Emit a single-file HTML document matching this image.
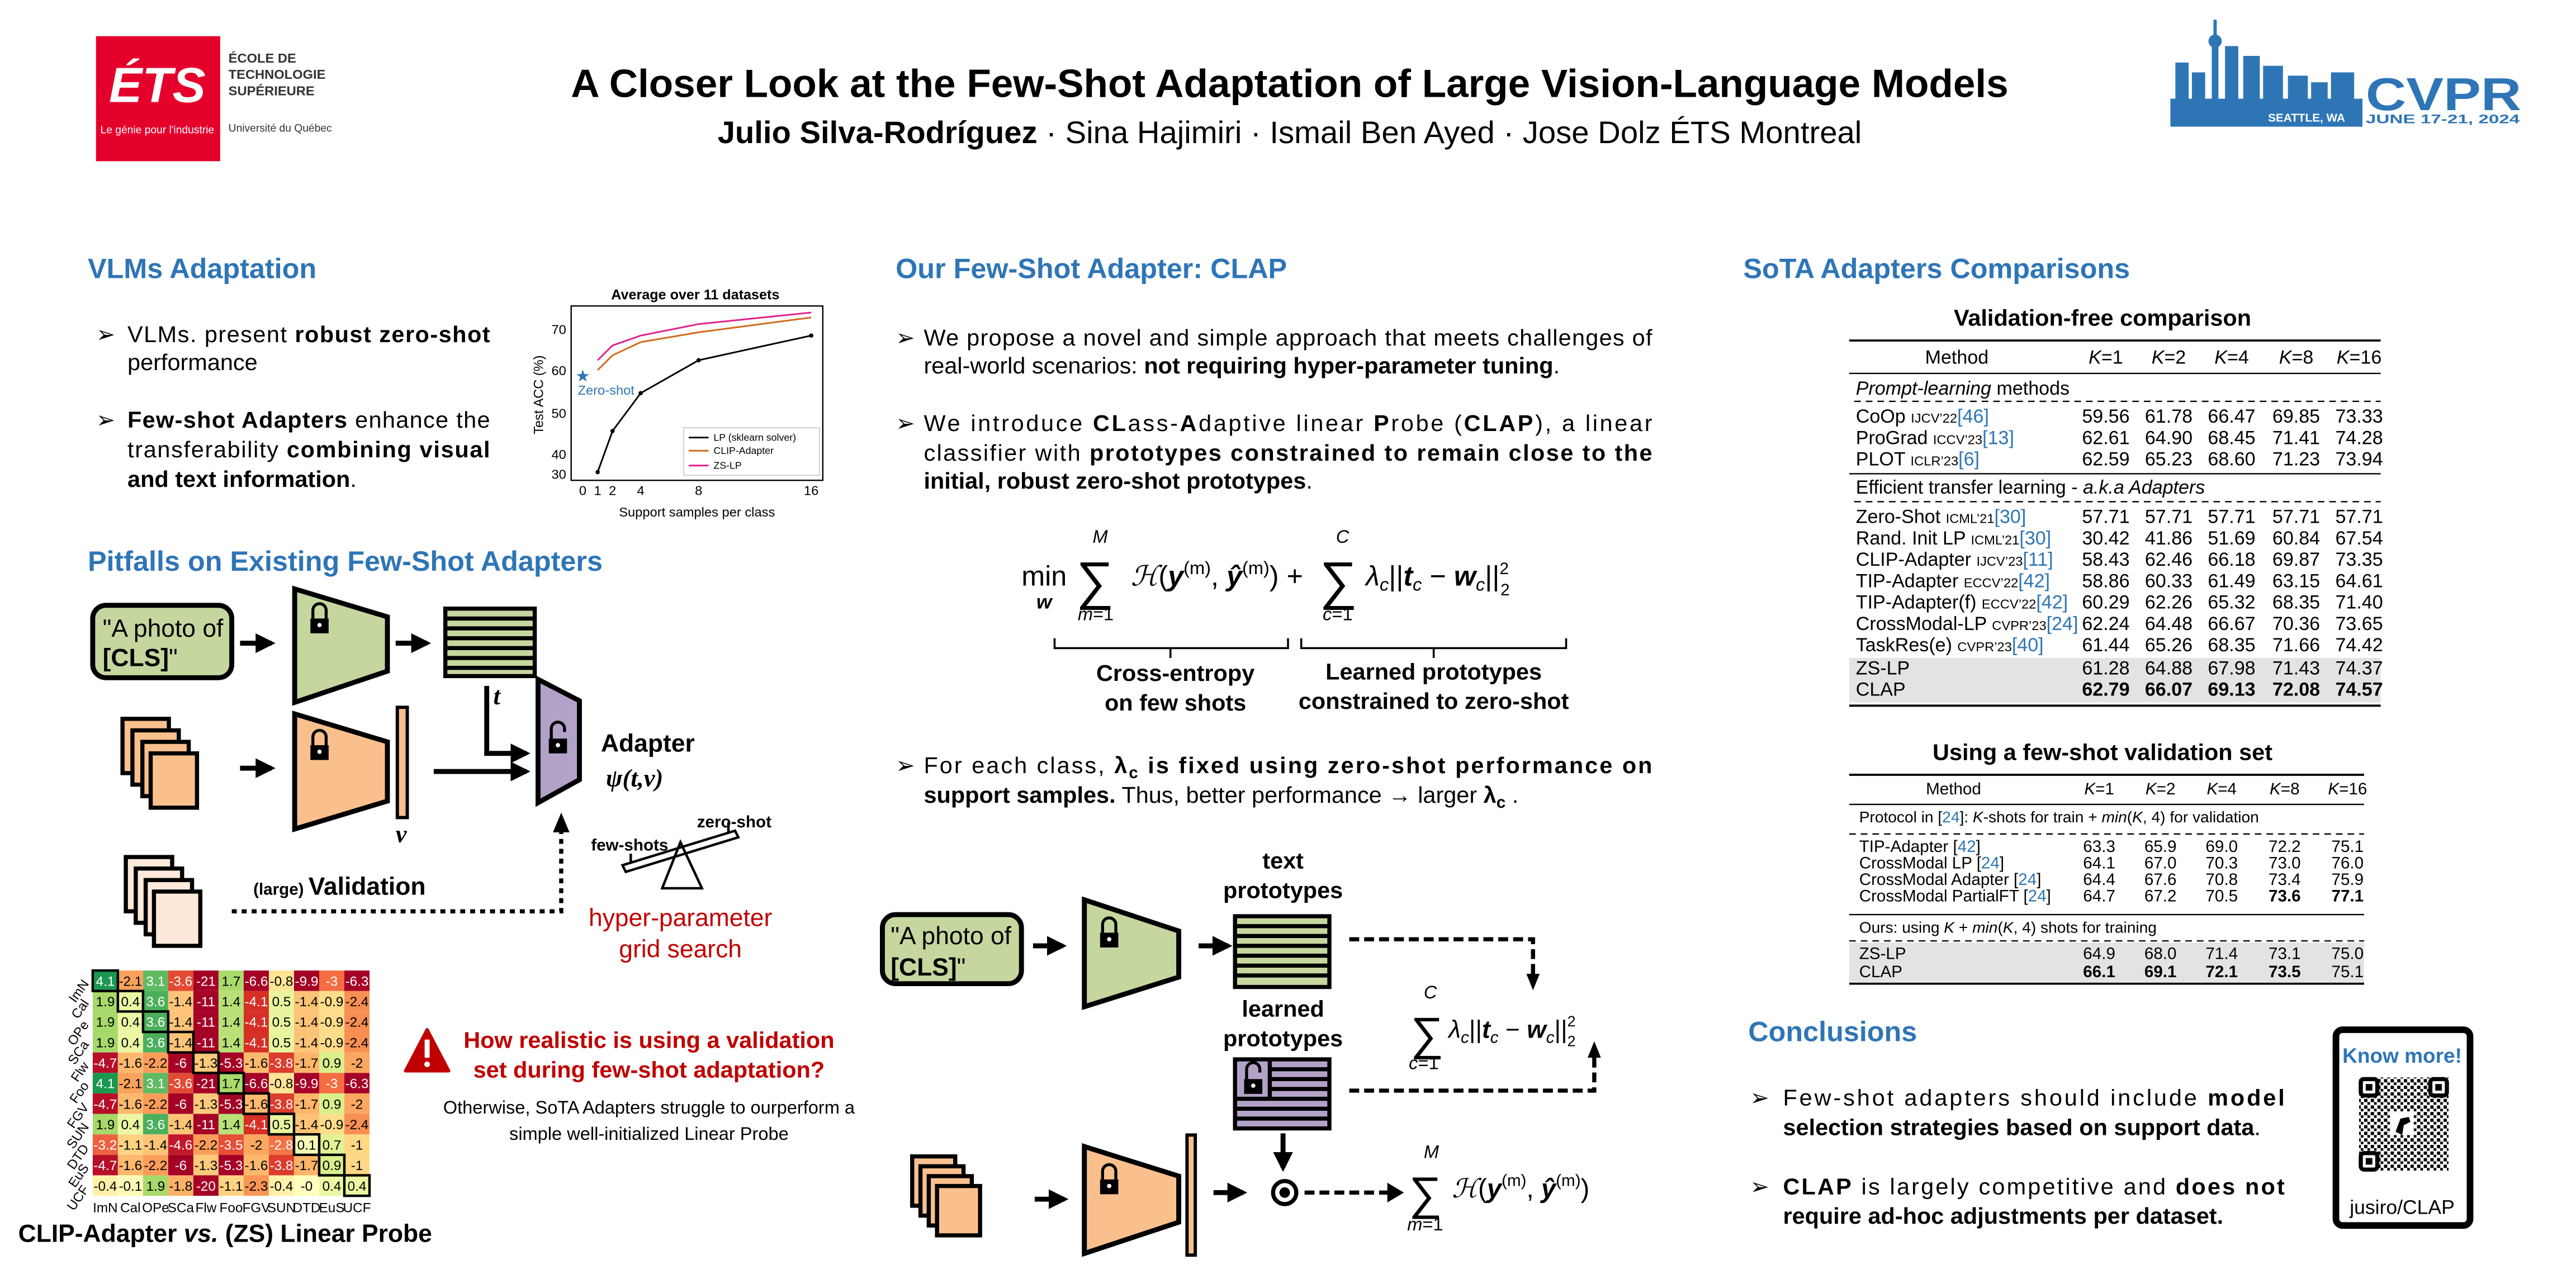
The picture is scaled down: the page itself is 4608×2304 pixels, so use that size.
<!DOCTYPE html>
<html><head><meta charset="utf-8"><style>
html,body{margin:0;padding:0;background:#fff}
svg{display:block}
text{font-family:"Liberation Sans",Arial,sans-serif}
.h{font-weight:bold;fill:#2e75b6;font-size:17px}
.b{font-size:14px}
.bb{font-weight:bold}
.s{font-family:"Liberation Serif",serif}
.hm text{font-size:8.2px;text-anchor:middle}
.w{fill:#fff}
</style></head><body>
<svg width="4608" height="2304" viewBox="0 0 1556 783" preserveAspectRatio="none" xmlns="http://www.w3.org/2000/svg">
<defs>
<g id="lock"><path d="M-4,0 V-5 A4,4 0 0 1 4,-5 V0" fill="none" stroke="#000" stroke-width="1.8"/><rect x="-5.5" y="0" width="11" height="9" fill="#000"/><circle cx="0" cy="4" r="1.3" fill="#fff"/></g>
<g id="ulock"><path d="M-4,0 V-6 A4,4 0 0 1 4,-6 V-4" fill="none" stroke="#000" stroke-width="1.8"/><rect x="-5.5" y="0" width="11" height="9" fill="#000"/><circle cx="0" cy="4" r="1.3" fill="#fff"/></g>
<marker id="ah" viewBox="0 0 10 10" refX="8" refY="5" markerWidth="4" markerHeight="4" orient="auto"><path d="M0,0 L10,5 L0,10 z" fill="#000"/></marker>
<pattern id="qr" width="4" height="4" patternUnits="userSpaceOnUse"><rect width="2" height="2" fill="#000"/><rect x="2" y="2" width="1.6" height="1.6" fill="#000"/></pattern>
</defs>

<!-- HEADER -->
<rect x="58" y="22" width="75" height="76" fill="#e4002b"/>
<text x="95" y="62" font-size="30" font-weight="bold" font-style="italic" fill="#fff" text-anchor="middle">ÉTS</text>
<text x="95" y="81" font-size="6.5" fill="#fff" text-anchor="middle">Le génie pour l'industrie</text>
<text x="138" y="38" font-size="8" font-weight="bold" fill="#333">ÉCOLE DE</text>
<text x="138" y="48" font-size="8" font-weight="bold" fill="#333">TECHNOLOGIE</text>
<text x="138" y="58" font-size="8" font-weight="bold" fill="#333">SUPÉRIEURE</text>
<text x="138" y="80" font-size="6.5" fill="#333">Université du Québec</text>

<text x="779" y="59" font-size="24" font-weight="bold" text-anchor="middle">A Closer Look at the Few-Shot Adaptation of Large Vision-Language Models</text>
<text x="779" y="87" font-size="19" text-anchor="middle"><tspan font-weight="bold">Julio Silva-Rodríguez</tspan> · Sina Hajimiri · Ismail Ben Ayed · Jose Dolz       ÉTS Montreal</text>

<!-- CVPR logo -->
<g fill="#2e75b6">
<rect x="1311" y="60" width="116" height="17"/>
<rect x="1336" y="22" width="4" height="40"/><circle cx="1338" cy="25" r="4"/><rect x="1337" y="12" width="2" height="12"/>
<rect x="1314" y="38" width="8" height="24"/><rect x="1324" y="44" width="8" height="18"/>
<rect x="1344" y="28" width="8" height="34"/><rect x="1355" y="34" width="10" height="28"/><rect x="1367" y="40" width="12" height="22"/><rect x="1382" y="46" width="12" height="16"/><rect x="1396" y="50" width="10" height="12"/><rect x="1408" y="44" width="14" height="18"/>
</g>
<text x="1429" y="67" font-size="28" font-weight="bold" fill="#2e75b6" textLength="94" lengthAdjust="spacingAndGlyphs">CVPR</text>
<text x="1370" y="74" font-size="7" font-weight="bold" fill="#fff">SEATTLE, WA</text>
<text x="1429" y="75" font-size="7.5" font-weight="bold" fill="#2e75b6" textLength="93" lengthAdjust="spacingAndGlyphs">JUNE 17-21, 2024</text>

<!-- LEFT COLUMN -->
<text x="53" y="169" class="h">VLMs Adaptation</text>
<text x="58" y="208" class="b">➢</text>
<text x="77" y="208" class="b" textLength="219" lengthAdjust="spacing">VLMs. present <tspan class="bb">robust zero-shot</tspan></text>
<text x="77" y="225" class="b">performance</text>
<text x="58" y="260" class="b">➢</text>
<text x="77" y="260" class="b" textLength="219" lengthAdjust="spacing"><tspan class="bb">Few-shot Adapters</tspan> enhance the</text>
<text x="77" y="278" class="b" textLength="219" lengthAdjust="spacing">transferability <tspan class="bb">combining visual</tspan></text>
<text x="77" y="296" class="b"><tspan class="bb">and text information</tspan>.</text>

<!-- chart -->
<text x="420" y="182" font-size="8.5" font-weight="bold" text-anchor="middle">Average over 11 datasets</text>
<rect x="345" y="186" width="152" height="106" fill="none" stroke="#000" stroke-width="0.8"/>
<g font-size="8" text-anchor="end"><text x="342" y="203">70</text><text x="342" y="228">60</text><text x="342" y="254">50</text><text x="342" y="279">40</text><text x="342" y="291">30</text></g>
<g font-size="8" text-anchor="middle"><text x="352" y="301">0</text><text x="361" y="301">1</text><text x="370" y="301">2</text><text x="387" y="301">4</text><text x="422" y="301">8</text><text x="490" y="301">16</text></g>
<text x="421" y="314" font-size="8" text-anchor="middle">Support samples per class</text>
<text transform="translate(328,240) rotate(-90)" font-size="8" text-anchor="middle">Test ACC (%)</text>
<polyline points="361,287 370,262 387,239 422,219 490,204" fill="none" stroke="#000" stroke-width="1"/>
<polyline points="361,225 370,216 387,208 422,202 490,193" fill="none" stroke="#d2691e" stroke-width="1"/>
<polyline points="361,219 370,210 387,204 422,197 490,190" fill="none" stroke="#e0218a" stroke-width="1"/>
<g fill="#000"><circle cx="361" cy="287" r="1.3"/><circle cx="370" cy="262" r="1.3"/><circle cx="387" cy="239" r="1.3"/><circle cx="422" cy="219" r="1.3"/><circle cx="490" cy="204" r="1.3"/></g>
<text x="352" y="232" font-size="10" fill="#2e75b6" text-anchor="middle">★</text>
<text x="349" y="240" font-size="8" fill="#2e75b6">Zero-shot</text>
<rect x="413" y="260" width="82" height="29" fill="#fff" stroke="#ccc" stroke-width="0.6"/>
<line x1="416" y1="266" x2="428" y2="266" stroke="#000"/><text x="431" y="268" font-size="6">LP (sklearn solver)</text>
<line x1="416" y1="274" x2="428" y2="274" stroke="#d2691e"/><text x="431" y="276" font-size="6">CLIP-Adapter</text>
<line x1="416" y1="283" x2="428" y2="283" stroke="#e0218a"/><text x="431" y="285" font-size="6">ZS-LP</text>

<text x="53" y="347" class="h">Pitfalls on Existing Few-Shot Adapters</text>
<!-- left diagram -->
<rect x="56" y="368" width="84" height="44" rx="8" fill="#c5d79e" stroke="#000" stroke-width="3"/>
<text x="62" y="387" font-size="15">"A photo of</text>
<text x="62" y="405" font-size="15"><tspan font-weight="bold">[CLS]</tspan>"</text>
<g stroke="#000" stroke-width="3" marker-end="url(#ah)"><line x1="145" y1="391" x2="164" y2="391"/><line x1="239" y1="391" x2="258" y2="391"/><line x1="145" y1="467" x2="164" y2="467"/><line x1="262" y1="469" x2="318" y2="469"/></g>
<polygon points="178,358 234,375 234,408 178,427" fill="#c5d79e" stroke="#000" stroke-width="3"/>
<use href="#lock" x="193" y="376"/>
<rect x="269" y="370" width="54" height="41" fill="#c5d79e" stroke="#000" stroke-width="2.5"/>
<g stroke="#000" stroke-width="2.5"><line x1="269" y1="376" x2="323" y2="376"/><line x1="269" y1="382" x2="323" y2="382"/><line x1="269" y1="388" x2="323" y2="388"/><line x1="269" y1="394" x2="323" y2="394"/><line x1="269" y1="400" x2="323" y2="400"/><line x1="269" y1="406" x2="323" y2="406"/></g>
<text x="298" y="428" font-size="15" class="s" font-style="italic" font-weight="bold">t</text>
<path d="M294,417 V458 H318" fill="none" stroke="#000" stroke-width="3" marker-end="url(#ah)"/>
<g fill="#f9c08e" stroke="#000" stroke-width="2.5"><rect x="74" y="437" width="28" height="33"/><rect x="80" y="444" width="28" height="33"/><rect x="86" y="451" width="28" height="33"/><rect x="91" y="458" width="28" height="33"/></g>
<polygon points="178,434 234,451 234,487 178,504" fill="#f9c08e" stroke="#000" stroke-width="3"/>
<use href="#lock" x="193" y="453"/>
<rect x="240" y="430" width="6" height="67" fill="#f9c08e" stroke="#000" stroke-width="2"/>
<text x="239" y="512" font-size="15" class="s" font-style="italic" font-weight="bold">v</text>
<polygon points="325,413 350,426 350,474 325,488" fill="#b3a2c8" stroke="#000" stroke-width="3"/>
<use href="#ulock" x="337" y="449"/>
<text x="363" y="457" font-size="15" font-weight="bold">Adapter</text>
<text x="366" y="478" font-size="15" class="s" font-style="italic" font-weight="bold">ψ(t,v)</text>
<g fill="#fde9d9" stroke="#000" stroke-width="2.5"><rect x="76" y="521" width="28" height="33"/><rect x="82" y="528" width="28" height="33"/><rect x="88" y="535" width="28" height="33"/><rect x="93" y="542" width="28" height="33"/></g>
<text x="153" y="544" font-size="10" font-weight="bold">(large) <tspan font-size="15">Validation</tspan></text>
<path d="M140,554 H339 V502" fill="none" stroke="#000" stroke-width="2.5" stroke-dasharray="3,3"/>
<polygon points="334,506 339,494 344,506" fill="#000"/>
<text x="357" y="517" font-size="10" font-weight="bold">few-shots</text>
<text x="421" y="503" font-size="10" font-weight="bold">zero-shot</text>
<g fill="none" stroke="#000" stroke-width="1.5"><path d="M376,526 L444,505 L446,509 L378,530 Z"/><path d="M400,540 L411,512 L424,540 Z"/><path d="M381,525 V519 M440,506 V500"/></g>
<text x="411" y="563" font-size="15" fill="#c00000" text-anchor="middle">hyper-parameter</text>
<text x="411" y="582" font-size="15" fill="#c00000" text-anchor="middle">grid search</text>

<!-- heatmap -->
<g class="hm">
<g transform="translate(56,590)"><rect x="0" width="15.2" height="12.45" fill="#1a9850"/><rect x="15.2" width="15.2" height="12.45" fill="#fca25c"/><rect x="30.4" width="15.2" height="12.45" fill="#5fba62"/><rect x="45.6" width="15.2" height="12.45" fill="#e34a33"/><rect x="60.8" width="15.2" height="12.45" fill="#a50026"/><rect x="76" width="15.2" height="12.45" fill="#a9da6b"/><rect x="91.2" width="15.2" height="12.45" fill="#a50026"/><rect x="106.4" width="15.2" height="12.45" fill="#fee495"/><rect x="121.6" width="15.2" height="12.45" fill="#a50026"/><rect x="136.8" width="15.2" height="12.45" fill="#f46d43"/><rect x="152" width="15.2" height="12.45" fill="#a50026"/>
<text x="7.6" y="9.3" class="w">4.1</text><text x="22.8" y="9.3">-2.1</text><text x="38" y="9.3" class="w">3.1</text><text x="53.2" y="9.3" class="w">-3.6</text><text x="68.4" y="9.3" class="w">-21</text><text x="83.6" y="9.3">1.7</text><text x="98.8" y="9.3" class="w">-6.6</text><text x="114" y="9.3">-0.8</text><text x="129.2" y="9.3" class="w">-9.9</text><text x="144.4" y="9.3" class="w">-3</text><text x="159.6" y="9.3" class="w">-6.3</text></g>
<g transform="translate(56,602.45)"><rect x="0" width="15.2" height="12.45" fill="#a6d96a"/><rect x="15.2" width="15.2" height="12.45" fill="#ecf7a4"/><rect x="30.4" width="15.2" height="12.45" fill="#4bb05c"/><rect x="45.6" width="15.2" height="12.45" fill="#fdc477"/><rect x="60.8" width="15.2" height="12.45" fill="#a50026"/><rect x="76" width="15.2" height="12.45" fill="#b8e077"/><rect x="91.2" width="15.2" height="12.45" fill="#d62f26"/><rect x="106.4" width="15.2" height="12.45" fill="#e8f59e"/><rect x="121.6" width="15.2" height="12.45" fill="#fdc477"/><rect x="136.8" width="15.2" height="12.45" fill="#fedd8a"/><rect x="152" width="15.2" height="12.45" fill="#f88f53"/>
<text x="7.6" y="9.3">1.9</text><text x="22.8" y="9.3">0.4</text><text x="38" y="9.3" class="w">3.6</text><text x="53.2" y="9.3">-1.4</text><text x="68.4" y="9.3" class="w">-11</text><text x="83.6" y="9.3">1.4</text><text x="98.8" y="9.3" class="w">-4.1</text><text x="114" y="9.3">0.5</text><text x="129.2" y="9.3">-1.4</text><text x="144.4" y="9.3">-0.9</text><text x="159.6" y="9.3">-2.4</text></g>
<g transform="translate(56,614.9)"><rect x="0" width="15.2" height="12.45" fill="#a6d96a"/><rect x="15.2" width="15.2" height="12.45" fill="#ecf7a4"/><rect x="30.4" width="15.2" height="12.45" fill="#4bb05c"/><rect x="45.6" width="15.2" height="12.45" fill="#fdc477"/><rect x="60.8" width="15.2" height="12.45" fill="#a50026"/><rect x="76" width="15.2" height="12.45" fill="#b8e077"/><rect x="91.2" width="15.2" height="12.45" fill="#d62f26"/><rect x="106.4" width="15.2" height="12.45" fill="#e8f59e"/><rect x="121.6" width="15.2" height="12.45" fill="#fdc477"/><rect x="136.8" width="15.2" height="12.45" fill="#fedd8a"/><rect x="152" width="15.2" height="12.45" fill="#f88f53"/>
<text x="7.6" y="9.3">1.9</text><text x="22.8" y="9.3">0.4</text><text x="38" y="9.3" class="w">3.6</text><text x="53.2" y="9.3">-1.4</text><text x="68.4" y="9.3" class="w">-11</text><text x="83.6" y="9.3">1.4</text><text x="98.8" y="9.3" class="w">-4.1</text><text x="114" y="9.3">0.5</text><text x="129.2" y="9.3">-1.4</text><text x="144.4" y="9.3">-0.9</text><text x="159.6" y="9.3">-2.4</text></g>
<g transform="translate(56,627.35)"><rect x="0" width="15.2" height="12.45" fill="#a6d96a"/><rect x="15.2" width="15.2" height="12.45" fill="#ecf7a4"/><rect x="30.4" width="15.2" height="12.45" fill="#4bb05c"/><rect x="45.6" width="15.2" height="12.45" fill="#fdc477"/><rect x="60.8" width="15.2" height="12.45" fill="#a50026"/><rect x="76" width="15.2" height="12.45" fill="#b8e077"/><rect x="91.2" width="15.2" height="12.45" fill="#d62f26"/><rect x="106.4" width="15.2" height="12.45" fill="#e8f59e"/><rect x="121.6" width="15.2" height="12.45" fill="#fdc477"/><rect x="136.8" width="15.2" height="12.45" fill="#fedd8a"/><rect x="152" width="15.2" height="12.45" fill="#f88f53"/>
<text x="7.6" y="9.3">1.9</text><text x="22.8" y="9.3">0.4</text><text x="38" y="9.3" class="w">3.6</text><text x="53.2" y="9.3">-1.4</text><text x="68.4" y="9.3" class="w">-11</text><text x="83.6" y="9.3">1.4</text><text x="98.8" y="9.3" class="w">-4.1</text><text x="114" y="9.3">0.5</text><text x="129.2" y="9.3">-1.4</text><text x="144.4" y="9.3">-0.9</text><text x="159.6" y="9.3">-2.4</text></g>
<g transform="translate(56,639.8)"><rect x="0" width="15.2" height="12.45" fill="#b70f2a"/><rect x="15.2" width="15.2" height="12.45" fill="#fdb96d"/><rect x="30.4" width="15.2" height="12.45" fill="#fb9d59"/><rect x="45.6" width="15.2" height="12.45" fill="#a50026"/><rect x="60.8" width="15.2" height="12.45" fill="#fdc97a"/><rect x="76" width="15.2" height="12.45" fill="#a50026"/><rect x="91.2" width="15.2" height="12.45" fill="#fdb96d"/><rect x="106.4" width="15.2" height="12.45" fill="#dc3d2d"/><rect x="121.6" width="15.2" height="12.45" fill="#fdb569"/><rect x="136.8" width="15.2" height="12.45" fill="#d9ef8b"/><rect x="152" width="15.2" height="12.45" fill="#fca75f"/>
<text x="7.6" y="9.3" class="w">-4.7</text><text x="22.8" y="9.3">-1.6</text><text x="38" y="9.3">-2.2</text><text x="53.2" y="9.3" class="w">-6</text><text x="68.4" y="9.3">-1.3</text><text x="83.6" y="9.3" class="w">-5.3</text><text x="98.8" y="9.3">-1.6</text><text x="114" y="9.3" class="w">-3.8</text><text x="129.2" y="9.3">-1.7</text><text x="144.4" y="9.3">0.9</text><text x="159.6" y="9.3">-2</text></g>
<g transform="translate(56,652.25)"><rect x="0" width="15.2" height="12.45" fill="#1a9850"/><rect x="15.2" width="15.2" height="12.45" fill="#fca25c"/><rect x="30.4" width="15.2" height="12.45" fill="#5fba62"/><rect x="45.6" width="15.2" height="12.45" fill="#e34a33"/><rect x="60.8" width="15.2" height="12.45" fill="#a50026"/><rect x="76" width="15.2" height="12.45" fill="#a9da6b"/><rect x="91.2" width="15.2" height="12.45" fill="#a50026"/><rect x="106.4" width="15.2" height="12.45" fill="#fee495"/><rect x="121.6" width="15.2" height="12.45" fill="#a50026"/><rect x="136.8" width="15.2" height="12.45" fill="#f46d43"/><rect x="152" width="15.2" height="12.45" fill="#a50026"/>
<text x="7.6" y="9.3" class="w">4.1</text><text x="22.8" y="9.3">-2.1</text><text x="38" y="9.3" class="w">3.1</text><text x="53.2" y="9.3" class="w">-3.6</text><text x="68.4" y="9.3" class="w">-21</text><text x="83.6" y="9.3">1.7</text><text x="98.8" y="9.3" class="w">-6.6</text><text x="114" y="9.3">-0.8</text><text x="129.2" y="9.3" class="w">-9.9</text><text x="144.4" y="9.3" class="w">-3</text><text x="159.6" y="9.3" class="w">-6.3</text></g>
<g transform="translate(56,664.7)"><rect x="0" width="15.2" height="12.45" fill="#b70f2a"/><rect x="15.2" width="15.2" height="12.45" fill="#fdb96d"/><rect x="30.4" width="15.2" height="12.45" fill="#fb9d59"/><rect x="45.6" width="15.2" height="12.45" fill="#a50026"/><rect x="60.8" width="15.2" height="12.45" fill="#fdc97a"/><rect x="76" width="15.2" height="12.45" fill="#a50026"/><rect x="91.2" width="15.2" height="12.45" fill="#fdb96d"/><rect x="106.4" width="15.2" height="12.45" fill="#dc3d2d"/><rect x="121.6" width="15.2" height="12.45" fill="#fdb569"/><rect x="136.8" width="15.2" height="12.45" fill="#d9ef8b"/><rect x="152" width="15.2" height="12.45" fill="#fca75f"/>
<text x="7.6" y="9.3" class="w">-4.7</text><text x="22.8" y="9.3">-1.6</text><text x="38" y="9.3">-2.2</text><text x="53.2" y="9.3" class="w">-6</text><text x="68.4" y="9.3">-1.3</text><text x="83.6" y="9.3" class="w">-5.3</text><text x="98.8" y="9.3">-1.6</text><text x="114" y="9.3" class="w">-3.8</text><text x="129.2" y="9.3">-1.7</text><text x="144.4" y="9.3">0.9</text><text x="159.6" y="9.3">-2</text></g>
<g transform="translate(56,677.15)"><rect x="0" width="15.2" height="12.45" fill="#a6d96a"/><rect x="15.2" width="15.2" height="12.45" fill="#ecf7a4"/><rect x="30.4" width="15.2" height="12.45" fill="#4bb05c"/><rect x="45.6" width="15.2" height="12.45" fill="#fdc477"/><rect x="60.8" width="15.2" height="12.45" fill="#a50026"/><rect x="76" width="15.2" height="12.45" fill="#b8e077"/><rect x="91.2" width="15.2" height="12.45" fill="#d62f26"/><rect x="106.4" width="15.2" height="12.45" fill="#e8f59e"/><rect x="121.6" width="15.2" height="12.45" fill="#fdc477"/><rect x="136.8" width="15.2" height="12.45" fill="#fedd8a"/><rect x="152" width="15.2" height="12.45" fill="#f88f53"/>
<text x="7.6" y="9.3">1.9</text><text x="22.8" y="9.3">0.4</text><text x="38" y="9.3" class="w">3.6</text><text x="53.2" y="9.3">-1.4</text><text x="68.4" y="9.3" class="w">-11</text><text x="83.6" y="9.3">1.4</text><text x="98.8" y="9.3" class="w">-4.1</text><text x="114" y="9.3">0.5</text><text x="129.2" y="9.3">-1.4</text><text x="144.4" y="9.3">-0.9</text><text x="159.6" y="9.3">-2.4</text></g>
<g transform="translate(56,689.6)"><rect x="0" width="15.2" height="12.45" fill="#ee6140"/><rect x="15.2" width="15.2" height="12.45" fill="#fed382"/><rect x="30.4" width="15.2" height="12.45" fill="#fdc477"/><rect x="45.6" width="15.2" height="12.45" fill="#c0182a"/><rect x="60.8" width="15.2" height="12.45" fill="#fb9d59"/><rect x="76" width="15.2" height="12.45" fill="#e54f35"/><rect x="91.2" width="15.2" height="12.45" fill="#fca75f"/><rect x="106.4" width="15.2" height="12.45" fill="#f47445"/><rect x="121.6" width="15.2" height="12.45" fill="#f7fbb6"/><rect x="136.8" width="15.2" height="12.45" fill="#e0f293"/><rect x="152" width="15.2" height="12.45" fill="#fed884"/>
<text x="7.6" y="9.3" class="w">-3.2</text><text x="22.8" y="9.3">-1.1</text><text x="38" y="9.3">-1.4</text><text x="53.2" y="9.3" class="w">-4.6</text><text x="68.4" y="9.3">-2.2</text><text x="83.6" y="9.3" class="w">-3.5</text><text x="98.8" y="9.3">-2</text><text x="114" y="9.3" class="w">-2.8</text><text x="129.2" y="9.3">0.1</text><text x="144.4" y="9.3">0.7</text><text x="159.6" y="9.3">-1</text></g>
<g transform="translate(56,702.05)"><rect x="0" width="15.2" height="12.45" fill="#b70f2a"/><rect x="15.2" width="15.2" height="12.45" fill="#fdb96d"/><rect x="30.4" width="15.2" height="12.45" fill="#fb9d59"/><rect x="45.6" width="15.2" height="12.45" fill="#a50026"/><rect x="60.8" width="15.2" height="12.45" fill="#fdc97a"/><rect x="76" width="15.2" height="12.45" fill="#a50026"/><rect x="91.2" width="15.2" height="12.45" fill="#fdb96d"/><rect x="106.4" width="15.2" height="12.45" fill="#dc3d2d"/><rect x="121.6" width="15.2" height="12.45" fill="#fdb569"/><rect x="136.8" width="15.2" height="12.45" fill="#d9ef8b"/><rect x="152" width="15.2" height="12.45" fill="#fed884"/>
<text x="7.6" y="9.3" class="w">-4.7</text><text x="22.8" y="9.3">-1.6</text><text x="38" y="9.3">-2.2</text><text x="53.2" y="9.3" class="w">-6</text><text x="68.4" y="9.3">-1.3</text><text x="83.6" y="9.3" class="w">-5.3</text><text x="98.8" y="9.3">-1.6</text><text x="114" y="9.3" class="w">-3.8</text><text x="129.2" y="9.3">-1.7</text><text x="144.4" y="9.3">0.9</text><text x="159.6" y="9.3">-1</text></g>
<g transform="translate(56,714.5)"><rect x="0" width="15.2" height="12.45" fill="#fff1a8"/><rect x="15.2" width="15.2" height="12.45" fill="#fffcb9"/><rect x="30.4" width="15.2" height="12.45" fill="#a6d96a"/><rect x="45.6" width="15.2" height="12.45" fill="#fdb067"/><rect x="60.8" width="15.2" height="12.45" fill="#a50026"/><rect x="76" width="15.2" height="12.45" fill="#fed382"/><rect x="91.2" width="15.2" height="12.45" fill="#f99656"/><rect x="106.4" width="15.2" height="12.45" fill="#fff1a8"/><rect x="121.6" width="15.2" height="12.45" fill="#ffffbf"/><rect x="136.8" width="15.2" height="12.45" fill="#ecf7a4"/><rect x="152" width="15.2" height="12.45" fill="#ecf7a4"/>
<text x="7.6" y="9.3">-0.4</text><text x="22.8" y="9.3">-0.1</text><text x="38" y="9.3">1.9</text><text x="53.2" y="9.3">-1.8</text><text x="68.4" y="9.3" class="w">-20</text><text x="83.6" y="9.3">-1.1</text><text x="98.8" y="9.3">-2.3</text><text x="114" y="9.3">-0.4</text><text x="129.2" y="9.3">-0</text><text x="144.4" y="9.3">0.4</text><text x="159.6" y="9.3">0.4</text></g>
<g fill="none" stroke="#000" stroke-width="1.5" transform="translate(56,590)">
<rect x="0" y="0" width="15.2" height="12.45"/><rect x="15.2" y="12.45" width="15.2" height="12.45"/><rect x="30.4" y="24.9" width="15.2" height="12.45"/><rect x="45.6" y="37.35" width="15.2" height="12.45"/><rect x="60.8" y="49.8" width="15.2" height="12.45"/><rect x="76" y="62.25" width="15.2" height="12.45"/><rect x="91.2" y="74.7" width="15.2" height="12.45"/><rect x="106.4" y="87.15" width="15.2" height="12.45"/><rect x="121.6" y="99.6" width="15.2" height="12.45"/><rect x="136.8" y="112.05" width="15.2" height="12.45"/><rect x="152" y="124.5" width="15.2" height="12.45"/></g>
<g transform="translate(56,737)"><text x="7.6">ImN</text><text x="22.8">Cal</text><text x="38">OPe</text><text x="53.2">SCa</text><text x="68.4">Flw</text><text x="83.6">Foo</text><text x="98.8">FGV</text><text x="114">SUN</text><text x="129.2">DTD</text><text x="144.4">EuS</text><text x="159.6">UCF</text></g>
</g>
<g font-size="8" text-anchor="end">
<text transform="translate(54,598) rotate(-55)">ImN</text><text transform="translate(54,610) rotate(-55)">Cal</text><text transform="translate(54,623) rotate(-55)">OPe</text><text transform="translate(54,635) rotate(-55)">SCa</text><text transform="translate(54,648) rotate(-55)">Flw</text><text transform="translate(54,660) rotate(-55)">Foo</text><text transform="translate(54,673) rotate(-55)">FGV</text><text transform="translate(54,685) rotate(-55)">SUN</text><text transform="translate(54,698) rotate(-55)">DTD</text><text transform="translate(54,710) rotate(-55)">EuS</text><text transform="translate(54,723) rotate(-55)">UCF</text></g>
<text x="136" y="755" font-size="15" font-weight="bold" text-anchor="middle">CLIP-Adapter <tspan font-style="italic">vs.</tspan> (ZS) Linear Probe</text>

<polygon points="258,626 245,651 271,651" fill="#c00000" stroke="#c00000" stroke-width="2" stroke-linejoin="round"/>
<rect x="256.5" y="632" width="3" height="11" fill="#fff"/><circle cx="258" cy="647" r="1.7" fill="#fff"/>
<text x="392" y="637" font-size="14" font-weight="bold" fill="#c00000" text-anchor="middle">How realistic is using a validation</text>
<text x="392" y="655" font-size="14" font-weight="bold" fill="#c00000" text-anchor="middle">set during few-shot adaptation?</text>
<text x="392" y="677" font-size="11" text-anchor="middle">Otherwise, SoTA Adapters struggle to ourperform a</text>
<text x="392" y="693" font-size="11" text-anchor="middle">simple well-initialized Linear Probe</text>

<!-- MIDDLE COLUMN -->
<text x="541" y="169" class="h">Our Few-Shot Adapter: CLAP</text>
<text x="541" y="210" class="b">➢</text>
<text x="558" y="210" class="b" textLength="440" lengthAdjust="spacing">We propose a novel and simple approach that meets challenges of</text>
<text x="558" y="227" class="b">real-world scenarios: <tspan class="bb">not requiring hyper-parameter tuning</tspan>.</text>
<text x="541" y="262" class="b">➢</text>
<text x="558" y="262" class="b" textLength="440" lengthAdjust="spacing">We introduce <tspan class="bb">CL</tspan>ass-<tspan class="bb">A</tspan>daptive linear <tspan class="bb">P</tspan>robe (<tspan class="bb">CLAP</tspan>), a linear</text>
<text x="558" y="280" class="b" textLength="440" lengthAdjust="spacing">classifier with <tspan class="bb">prototypes constrained to remain close to the</tspan></text>
<text x="558" y="297" class="b"><tspan class="bb">initial, robust zero-shot prototypes</tspan>.</text>

<g class="s" font-size="17">
<text x="617" y="356">min</text><text x="626" y="370" font-size="12" font-style="italic" font-weight="bold">w</text>
<text x="650" y="364" font-size="32">∑</text><text x="660" y="330" font-size="11" font-style="italic">M</text><text x="651" y="377" font-size="11"><tspan font-style="italic">m</tspan>=1</text>
<text x="683" y="356"><tspan font-style="italic">ℋ</tspan>(<tspan font-style="italic" font-weight="bold">y</tspan><tspan font-size="11" dy="-7">(m)</tspan><tspan dy="7">, </tspan><tspan font-style="italic" font-weight="bold">ŷ</tspan><tspan font-size="11" dy="-7">(m)</tspan><tspan dy="7">) +</tspan></text>
<text x="797" y="364" font-size="32">∑</text><text x="807" y="330" font-size="11" font-style="italic">C</text><text x="799" y="377" font-size="11"><tspan font-style="italic">c</tspan>=1</text>
<text x="825" y="356"><tspan font-style="italic">λ</tspan><tspan font-size="11" font-style="italic" dy="3">c</tspan><tspan dy="-3">||</tspan><tspan font-style="italic" font-weight="bold">t</tspan><tspan font-size="11" font-style="italic" dy="3">c</tspan><tspan dy="-3"> − </tspan><tspan font-style="italic" font-weight="bold">w</tspan><tspan font-size="11" font-style="italic" dy="3">c</tspan><tspan dy="-3">||</tspan><tspan font-size="10" dy="-7">2</tspan><tspan font-size="10" dx="-5" dy="13">2</tspan></text>
</g>
<g fill="none" stroke="#000" stroke-width="1.2"><path d="M637,388 V394 H778 V388 M707,394 V400"/><path d="M786,388 V394 H946 V388 M866,394 V400"/></g>
<text x="710" y="414" font-size="14" font-weight="bold" text-anchor="middle">Cross-entropy</text>
<text x="710" y="432" font-size="14" font-weight="bold" text-anchor="middle">on few shots</text>
<text x="866" y="413" font-size="14" font-weight="bold" text-anchor="middle">Learned prototypes</text>
<text x="866" y="431" font-size="14" font-weight="bold" text-anchor="middle">constrained to zero-shot</text>
<text x="541" y="470" class="b">➢</text>
<text x="558" y="470" class="b" textLength="440" lengthAdjust="spacing">For each class, <tspan class="bb">λ</tspan><tspan class="bb" font-size="10" dy="3">c</tspan><tspan class="bb" dy="-3"> is fixed using zero-shot performance on</tspan></text>
<text x="558" y="488" class="b"><tspan class="bb">support samples.</tspan> Thus, better performance → larger <tspan class="bb">λ</tspan><tspan class="bb" font-size="10" dy="3">c</tspan><tspan dy="-3"> .</tspan></text>

<!-- middle diagram -->
<text x="775" y="528" font-size="14" font-weight="bold" text-anchor="middle">text</text>
<text x="775" y="546" font-size="14" font-weight="bold" text-anchor="middle">prototypes</text>
<rect x="533" y="556" width="84" height="42" rx="8" fill="#c5d79e" stroke="#000" stroke-width="3"/>
<text x="538" y="574" font-size="15">"A photo of</text>
<text x="538" y="593" font-size="15"><tspan font-weight="bold">[CLS]</tspan>"</text>
<g stroke="#000" stroke-width="3" marker-end="url(#ah)"><line x1="624" y1="575" x2="642" y2="575"/><line x1="724" y1="575" x2="742" y2="575"/><line x1="625" y1="729" x2="643" y2="729"/><line x1="733" y1="725" x2="751" y2="725"/><line x1="775" y1="689" x2="775" y2="710"/></g>
<polygon points="655,547 712,566 712,594 655,612" fill="#c5d79e" stroke="#000" stroke-width="3"/>
<use href="#lock" x="670" y="567"/>
<rect x="746" y="557" width="57" height="43" fill="#c5d79e" stroke="#000" stroke-width="2.5"/>
<g stroke="#000" stroke-width="2.5"><line x1="746" y1="563" x2="803" y2="563"/><line x1="746" y1="569" x2="803" y2="569"/><line x1="746" y1="575" x2="803" y2="575"/><line x1="746" y1="581" x2="803" y2="581"/><line x1="746" y1="587" x2="803" y2="587"/><line x1="746" y1="593" x2="803" y2="593"/></g>
<path d="M815,571 H926 V592" fill="none" stroke="#000" stroke-width="2.5" stroke-dasharray="6,3"/>
<polygon points="922,592 926,602 930,592" fill="#000"/>
<g class="s" font-size="15">
<text x="852" y="638" font-size="28">∑</text><text x="860" y="607" font-size="11" font-style="italic">C</text><text x="851" y="650" font-size="11"><tspan font-style="italic">c</tspan>=1</text>
<text x="875" y="631"><tspan font-style="italic">λ</tspan><tspan font-size="10" font-style="italic" dy="3">c</tspan><tspan dy="-3">||</tspan><tspan font-style="italic" font-weight="bold">t</tspan><tspan font-size="10" font-style="italic" dy="3">c</tspan><tspan dy="-3"> − </tspan><tspan font-style="italic" font-weight="bold">w</tspan><tspan font-size="10" font-style="italic" dy="3">c</tspan><tspan dy="-3">||</tspan><tspan font-size="9" dy="-7">2</tspan><tspan font-size="9" dx="-5" dy="12">2</tspan></text>
</g>
<text x="775" y="618" font-size="14" font-weight="bold" text-anchor="middle">learned</text>
<text x="775" y="636" font-size="14" font-weight="bold" text-anchor="middle">prototypes</text>
<rect x="746" y="644" width="57" height="42" fill="#b3a2c8" stroke="#000" stroke-width="2.5"/>
<g stroke="#000" stroke-width="2.5"><line x1="767" y1="650" x2="803" y2="650"/><line x1="767" y1="656" x2="803" y2="656"/><line x1="767" y1="662" x2="803" y2="662"/><line x1="746" y1="668" x2="803" y2="668"/><line x1="746" y1="674" x2="803" y2="674"/><line x1="746" y1="680" x2="803" y2="680"/><line x1="767" y1="644" x2="767" y2="668"/></g>
<use href="#ulock" x="757" y="656"/>
<path d="M815,663 H963 V643" fill="none" stroke="#000" stroke-width="2.5" stroke-dasharray="6,3"/>
<polygon points="959,643 963,633 967,643" fill="#000"/>
<g fill="#f9c08e" stroke="#000" stroke-width="2.5"><rect x="551" y="703" width="26" height="30"/><rect x="556" y="709" width="26" height="30"/><rect x="561" y="715" width="26" height="30"/><rect x="566" y="721" width="26" height="30"/></g>
<polygon points="655,697 712,715 712,743 655,762" fill="#f9c08e" stroke="#000" stroke-width="3"/>
<use href="#lock" x="670" y="717"/>
<rect x="717" y="690" width="5" height="73" fill="#f9c08e" stroke="#000" stroke-width="2"/>
<circle cx="776" cy="725" r="7" fill="#fff" stroke="#000" stroke-width="2.5"/><circle cx="776" cy="725" r="3.2" fill="#000"/>
<line x1="788" y1="725" x2="840" y2="725" stroke="#000" stroke-width="2.5" stroke-dasharray="6,3"/>
<polygon points="838,719 848,725 838,731" fill="#000"/>
<g class="s" font-size="16">
<text x="851" y="735" font-size="28">∑</text><text x="860" y="704" font-size="11" font-style="italic">M</text><text x="850" y="748" font-size="11"><tspan font-style="italic">m</tspan>=1</text>
<text x="877" y="728"><tspan font-style="italic">ℋ</tspan>(<tspan font-style="italic" font-weight="bold">y</tspan><tspan font-size="10" dy="-7">(m)</tspan><tspan dy="7">, </tspan><tspan font-style="italic" font-weight="bold">ŷ</tspan><tspan font-size="10" dy="-7">(m)</tspan><tspan dy="7">)</tspan></text>
</g>

<!-- RIGHT COLUMN -->
<text x="1053" y="169" class="h">SoTA Adapters Comparisons</text>
<text x="1270" y="198" font-size="14" font-weight="bold" text-anchor="middle">Validation-free comparison</text>
<g class="s" font-size="11.5">
<rect x="1117" y="400" width="321" height="27" fill="#e3e3e3"/>
<line x1="1117" y1="207" x2="1438" y2="207" stroke="#000" stroke-width="1.3"/>
<line x1="1117" y1="227" x2="1438" y2="227" stroke="#000" stroke-width="0.8"/>
<line x1="1117" y1="288" x2="1438" y2="288" stroke="#000" stroke-width="0.8"/>
<line x1="1117" y1="429" x2="1438" y2="429" stroke="#000" stroke-width="1.3"/>
<line x1="1120" y1="244" x2="1438" y2="244" stroke="#000" stroke-width="0.8" stroke-dasharray="4,3"/>
<line x1="1120" y1="305" x2="1438" y2="305" stroke="#000" stroke-width="0.8" stroke-dasharray="4,3"/>
<g text-anchor="middle"><text x="1182" y="221">Method</text><text x="1272" y="221"><tspan font-style="italic">K</tspan>=1</text><text x="1310" y="221"><tspan font-style="italic">K</tspan>=2</text><text x="1348" y="221"><tspan font-style="italic">K</tspan>=4</text><text x="1387" y="221"><tspan font-style="italic">K</tspan>=8</text><text x="1425" y="221"><tspan font-style="italic">K</tspan>=16</text></g>
<text x="1121" y="240"><tspan font-style="italic">Prompt-learning</tspan> methods</text>
<text x="1121" y="300">Efficient transfer learning - <tspan font-style="italic">a.k.a Adapters</tspan></text>
<g fill="#000">
<text x="1121" y="257">CoOp <tspan font-size="8">IJCV’22</tspan><tspan fill="#2e75b6">[46]</tspan></text>
<text x="1121" y="270">ProGrad <tspan font-size="8">ICCV’23</tspan><tspan fill="#2e75b6">[13]</tspan></text>
<text x="1121" y="283">PLOT <tspan font-size="8">ICLR’23</tspan><tspan fill="#2e75b6">[6]</tspan></text>
<text x="1121" y="318">Zero-Shot <tspan font-size="8">ICML’21</tspan><tspan fill="#2e75b6">[30]</tspan></text>
<text x="1121" y="331">Rand. Init LP <tspan font-size="8">ICML’21</tspan><tspan fill="#2e75b6">[30]</tspan></text>
<text x="1121" y="344">CLIP-Adapter <tspan font-size="8">IJCV’23</tspan><tspan fill="#2e75b6">[11]</tspan></text>
<text x="1121" y="357">TIP-Adapter <tspan font-size="8">ECCV’22</tspan><tspan fill="#2e75b6">[42]</tspan></text>
<text x="1121" y="370">TIP-Adapter(f) <tspan font-size="8">ECCV’22</tspan><tspan fill="#2e75b6">[42]</tspan></text>
<text x="1121" y="383">CrossModal-LP <tspan font-size="8">CVPR’23</tspan><tspan fill="#2e75b6">[24]</tspan></text>
<text x="1121" y="396">TaskRes(e) <tspan font-size="8">CVPR’23</tspan><tspan fill="#2e75b6">[40]</tspan></text>
<text x="1121" y="410">ZS-LP</text>
<text x="1121" y="423">CLAP</text>
</g>
<g text-anchor="middle">
<g transform="translate(0,257)"><text x="1272">59.56</text><text x="1310">61.78</text><text x="1348">66.47</text><text x="1387">69.85</text><text x="1425">73.33</text></g>
<g transform="translate(0,270)"><text x="1272">62.61</text><text x="1310">64.90</text><text x="1348">68.45</text><text x="1387">71.41</text><text x="1425">74.28</text></g>
<g transform="translate(0,283)"><text x="1272">62.59</text><text x="1310">65.23</text><text x="1348">68.60</text><text x="1387">71.23</text><text x="1425">73.94</text></g>
<g transform="translate(0,318)"><text x="1272">57.71</text><text x="1310">57.71</text><text x="1348">57.71</text><text x="1387">57.71</text><text x="1425">57.71</text></g>
<g transform="translate(0,331)"><text x="1272">30.42</text><text x="1310">41.86</text><text x="1348">51.69</text><text x="1387">60.84</text><text x="1425">67.54</text></g>
<g transform="translate(0,344)"><text x="1272">58.43</text><text x="1310">62.46</text><text x="1348">66.18</text><text x="1387">69.87</text><text x="1425">73.35</text></g>
<g transform="translate(0,357)"><text x="1272">58.86</text><text x="1310">60.33</text><text x="1348">61.49</text><text x="1387">63.15</text><text x="1425">64.61</text></g>
<g transform="translate(0,370)"><text x="1272">60.29</text><text x="1310">62.26</text><text x="1348">65.32</text><text x="1387">68.35</text><text x="1425">71.40</text></g>
<g transform="translate(0,383)"><text x="1272">62.24</text><text x="1310">64.48</text><text x="1348">66.67</text><text x="1387">70.36</text><text x="1425">73.65</text></g>
<g transform="translate(0,396)"><text x="1272">61.44</text><text x="1310">65.26</text><text x="1348">68.35</text><text x="1387">71.66</text><text x="1425">74.42</text></g>
<g transform="translate(0,410)"><text x="1272">61.28</text><text x="1310">64.88</text><text x="1348">67.98</text><text x="1387">71.43</text><text x="1425">74.37</text></g>
<g transform="translate(0,423)" font-weight="bold"><text x="1272">62.79</text><text x="1310">66.07</text><text x="1348">69.13</text><text x="1387">72.08</text><text x="1425">74.57</text></g>
</g>
</g>

<text x="1270" y="462" font-size="14" font-weight="bold" text-anchor="middle">Using a few-shot validation set</text>
<g class="s" font-size="10">
<rect x="1117" y="573" width="311" height="24" fill="#e3e3e3"/>
<line x1="1117" y1="471" x2="1428" y2="471" stroke="#000" stroke-width="1.3"/>
<line x1="1117" y1="489" x2="1428" y2="489" stroke="#000" stroke-width="0.8"/>
<line x1="1117" y1="556" x2="1428" y2="556" stroke="#000" stroke-width="0.8"/>
<line x1="1117" y1="598" x2="1428" y2="598" stroke="#000" stroke-width="1.3"/>
<line x1="1117" y1="507" x2="1428" y2="507" stroke="#000" stroke-width="0.8" stroke-dasharray="4,3"/>
<line x1="1117" y1="572" x2="1428" y2="572" stroke="#000" stroke-width="0.8" stroke-dasharray="4,3"/>
<g text-anchor="middle"><text x="1180" y="483">Method</text><text x="1268" y="483"><tspan font-style="italic">K</tspan>=1</text><text x="1305" y="483"><tspan font-style="italic">K</tspan>=2</text><text x="1342" y="483"><tspan font-style="italic">K</tspan>=4</text><text x="1380" y="483"><tspan font-style="italic">K</tspan>=8</text><text x="1418" y="483"><tspan font-style="italic">K</tspan>=16</text></g>
<text x="1123" y="500" font-size="9.5">Protocol in [<tspan fill="#2e75b6">24</tspan>]: <tspan font-style="italic">K</tspan>-shots for train + <tspan font-style="italic">min</tspan>(<tspan font-style="italic">K</tspan>, 4) for validation</text>
<text x="1123" y="518">TIP-Adapter [<tspan fill="#2e75b6">42</tspan>]</text>
<text x="1123" y="528">CrossModal LP [<tspan fill="#2e75b6">24</tspan>]</text>
<text x="1123" y="538">CrossModal Adapter [<tspan fill="#2e75b6">24</tspan>]</text>
<text x="1123" y="548">CrossModal PartialFT [<tspan fill="#2e75b6">24</tspan>]</text>
<text x="1123" y="567" font-size="9.5">Ours: using <tspan font-style="italic">K</tspan> + <tspan font-style="italic">min</tspan>(<tspan font-style="italic">K</tspan>, 4) shots for training</text>
<text x="1123" y="583">ZS-LP</text>
<text x="1123" y="594">CLAP</text>
<g text-anchor="middle">
<g transform="translate(0,518)"><text x="1268">63.3</text><text x="1305">65.9</text><text x="1342">69.0</text><text x="1380">72.2</text><text x="1418">75.1</text></g>
<g transform="translate(0,528)"><text x="1268">64.1</text><text x="1305">67.0</text><text x="1342">70.3</text><text x="1380">73.0</text><text x="1418">76.0</text></g>
<g transform="translate(0,538)"><text x="1268">64.4</text><text x="1305">67.6</text><text x="1342">70.8</text><text x="1380">73.4</text><text x="1418">75.9</text></g>
<g transform="translate(0,548)"><text x="1268">64.7</text><text x="1305">67.2</text><text x="1342">70.5</text><text x="1380" font-weight="bold">73.6</text><text x="1418" font-weight="bold">77.1</text></g>
<g transform="translate(0,583)"><text x="1268">64.9</text><text x="1305">68.0</text><text x="1342">71.4</text><text x="1380">73.1</text><text x="1418">75.0</text></g>
<g transform="translate(0,594)"><text x="1268" font-weight="bold">66.1</text><text x="1305" font-weight="bold">69.1</text><text x="1342" font-weight="bold">72.1</text><text x="1380" font-weight="bold">73.5</text><text x="1418">75.1</text></g>
</g>
</g>

<text x="1056" y="633" class="h">Conclusions</text>
<text x="1057" y="672" class="b">➢</text>
<text x="1077" y="672" class="b" textLength="303" lengthAdjust="spacing">Few-shot  adapters should include <tspan class="bb">model</tspan></text>
<text x="1077" y="690" class="b"><tspan class="bb">selection strategies based on support data</tspan>.</text>
<text x="1057" y="726" class="b">➢</text>
<text x="1077" y="726" class="b" textLength="303" lengthAdjust="spacing"><tspan class="bb">CLAP</tspan> is largely competitive and <tspan class="bb">does not</tspan></text>
<text x="1077" y="744" class="b bb">require ad-hoc adjustments per dataset.</text>

<rect x="1411" y="626" width="81" height="119" rx="4" fill="#fff" stroke="#000" stroke-width="4"/>
<text x="1451" y="646" font-size="12.5" font-weight="bold" fill="#2e75b6" text-anchor="middle">Know more!</text>
<rect x="1425" y="655" width="54" height="57" fill="url(#qr)"/>
<g fill="#fff" stroke="#000" stroke-width="2.5"><rect x="1426" y="656" width="10" height="10" rx="2"/><rect x="1468" y="656" width="10" height="10" rx="2"/><rect x="1426" y="701" width="10" height="10" rx="2"/></g>
<g fill="#000"><rect x="1429" y="659" width="4" height="4"/><rect x="1471" y="659" width="4" height="4"/><rect x="1429" y="704" width="4" height="4"/></g>
<rect x="1444" y="676" width="14" height="14" fill="#fff"/><path d="M1447,688 L1450,680 L1455,679 L1456,682 L1452,684 L1451,690 Z" fill="#000"/>
<text x="1451" y="738" font-size="12" text-anchor="middle">jusiro/CLAP</text>
</svg>
</body></html>
